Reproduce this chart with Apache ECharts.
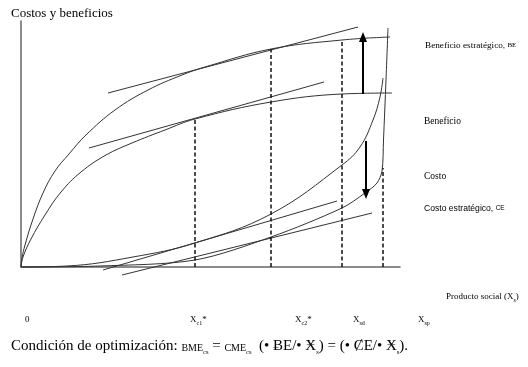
<!DOCTYPE html>
<html><head><meta charset="utf-8">
<script src="https://cdn.jsdelivr.net/npm/echarts@6/dist/echarts.min.js"></script>
<style>html,body{margin:0;padding:0;background:#fff}#c{width:528px;height:367px}</style>
</head><body><div id="c"></div>
<script>
// Data (x: producto social units, y: costos/beneficios units)
const beX = [0, 1, 4, 12, 22, 34, 48, 65, 94, 127, 161, 184, 250, 321, 369];
const beY = [0, 9, 22, 48, 74, 96, 113, 132, 157, 177, 192, 200, 218, 227, 230];
const benX = [0, 2, 10, 24, 40, 60, 85, 111, 144, 174, 250, 321, 371];
const benY = [0, 10, 28, 52, 75, 95, 112, 124, 137, 148, 165, 173, 174];
const costoX = [0, 46, 112, 174, 250, 321, 339, 352, 359, 362];
const costoY = [0, 1, 10, 24, 53, 102, 120, 147, 170, 189];
const ceX = [0, 79, 174, 250, 321, 344, 356, 361, 362.5, 365, 367];
const ceY = [0, 1, 7, 30, 59, 74, 84, 96, 127, 187, 239];
// tangent segments [x1,y1,x2,y2]
const tanBE = [87, 174, 337, 240];
const tanBen = [68, 119, 303, 185];
const tanCosto = [82, -3, 316, 66];
const tanCE = [101, -8, 351, 54];
// dashed verticals: x, top y
const dashX = [174, 250, 321, 362];
const dashTop = [148, 218, 227, 99];
// arrows: x, from y, to y
const arrowUp = [342, 173, 230];
const arrowDown = [345, 126, 73];
// labels
const yTitle = 'Costos y beneficios';
const xTitle = 'Producto social (X';
const curveLabels = ['Beneficio estratégico, ', 'Beneficio', 'Costo', 'Costo estratégico, '];
const tickLabels = ['0', 'X', 'X', 'X', 'X'];
const tickSubs = ['', 'c1', 'c2', 'sd', 'sp'];
const tickStars = ['', '*', '*', '', ''];

const pairs = (xs, ys) => xs.map((x, i) => [x, ys[i]]);
const seg = s => [[s[0], s[1]], [s[2], s[3]]];
const curveStyle = {color: '#333', width: 1};
const serif = '"Liberation Serif", "DejaVu Serif", serif';
const sans = '"Liberation Sans", Arial, sans-serif';

const series = [];
function curve(data, sm) {
  series.push({type: 'line', data, smooth: sm, symbol: 'none',
    lineStyle: curveStyle, clip: false, silent: true});
}
function straight(data, style) {
  series.push({type: 'line', data, symbol: 'none', lineStyle: style, clip: false, silent: true});
}
curve(pairs(beX, beY), 0.4);
curve(pairs(benX, benY), 0.4);
curve(pairs(costoX, costoY), 0.4);
curve(pairs(ceX, ceY), 0.3);
[tanBE, tanBen, tanCosto, tanCE].forEach(t => straight(seg(t), {color: '#333', width: 1}));
dashX.forEach((x, i) => straight([[x, 0], [x, dashTop[i]]], {color: '#111', width: 1.5, type: [4, 2.5]}));
[arrowUp, arrowDown].forEach(a => {
  series.push({type: 'line', data: [], silent: true,
    markLine: {silent: true, symbol: ['none', 'triangle'], symbolSize: [8, 10],
      label: {show: false}, lineStyle: {color: '#000', width: 2, type: 'solid'},
      data: [[{coord: [a[0], a[1]]}, {coord: [a[0], a[2]]}]]}});
});

function txt(left, top, text, rich, font) {
  return {type: 'text', left, top, silent: true,
    style: {text, rich: rich || {}, font: font, fill: '#000'}};
}
const graphic = [
  txt(11, 7, yTitle, null, '13px ' + serif),
  txt(425, 41, '{a|' + curveLabels[0] + '}{b|BE}', {a: {fontSize: 9.2, fontFamily: serif}, b: {fontSize: 7, fontFamily: serif}}),
  txt(424, 116, '{a|' + curveLabels[1] + '}', {a: {fontSize: 9.5, fontFamily: serif}}),
  txt(424, 171, '{a|' + curveLabels[2] + '}', {a: {fontSize: 9.5, fontFamily: serif}}),
  txt(424, 204, '{a|' + curveLabels[3] + '}{b|CE}', {a: {fontSize: 8.6, fontFamily: sans}, b: {fontSize: 6.5, fontFamily: sans}}),
  txt(446, 292, '{a|' + xTitle + '}{s|s}{a|)}', {a: {fontSize: 9, fontFamily: serif, verticalAlign: 'top'}, s: {fontSize: 6, fontFamily: serif, padding: [5, 0, 0, 0], verticalAlign: 'top'}}),
  txt(11, 339, '{a|Condición de optimización: }{sc|BME}{s|cs}{a| = }{sc|CME}{s|cs}{a|  (• ɃE/• Ӿ}{s|s}{a|) = (• ȻE/• Ӿ}{s|s}{a|).}',
    {a: {fontSize: 15, fontFamily: serif, verticalAlign: 'top'}, sc: {fontSize: 10, fontFamily: serif, padding: [4, 0, 0, 0], verticalAlign: 'top'}, s: {fontSize: 6.5, fontFamily: serif, padding: [10, 0, 0, 0], verticalAlign: 'top'}})
];
const tickLeft = [25, 190, 295, 353, 418];
tickLabels.forEach((t, i) => {
  graphic.push(txt(tickLeft[i], 315, '{a|' + t + '}{s|' + tickSubs[i] + '}{a|' + tickStars[i] + '}',
    {a: {fontSize: 9, fontFamily: serif, verticalAlign: 'top'}, s: {fontSize: 6, fontFamily: serif, padding: [5, 0, 0, 0], verticalAlign: 'top'}}));
});

const chart = echarts.init(document.getElementById('c'), null, {renderer: 'canvas'});
chart.setOption({
  animation: false,
  backgroundColor: '#fff',
  grid: {left: 21, right: 128, top: 21, bottom: 100},
  xAxis: {type: 'value', min: 0, max: 379, splitLine: {show: false}, axisTick: {show: false}, axisLabel: {show: false},
    axisLine: {lineStyle: {color: '#666', width: 1.5}}},
  yAxis: {type: 'value', min: 0, max: 246, splitLine: {show: false}, axisTick: {show: false}, axisLabel: {show: false},
    axisLine: {lineStyle: {color: '#666', width: 1.5}}},
  series,
  graphic
});
</script></body></html>
